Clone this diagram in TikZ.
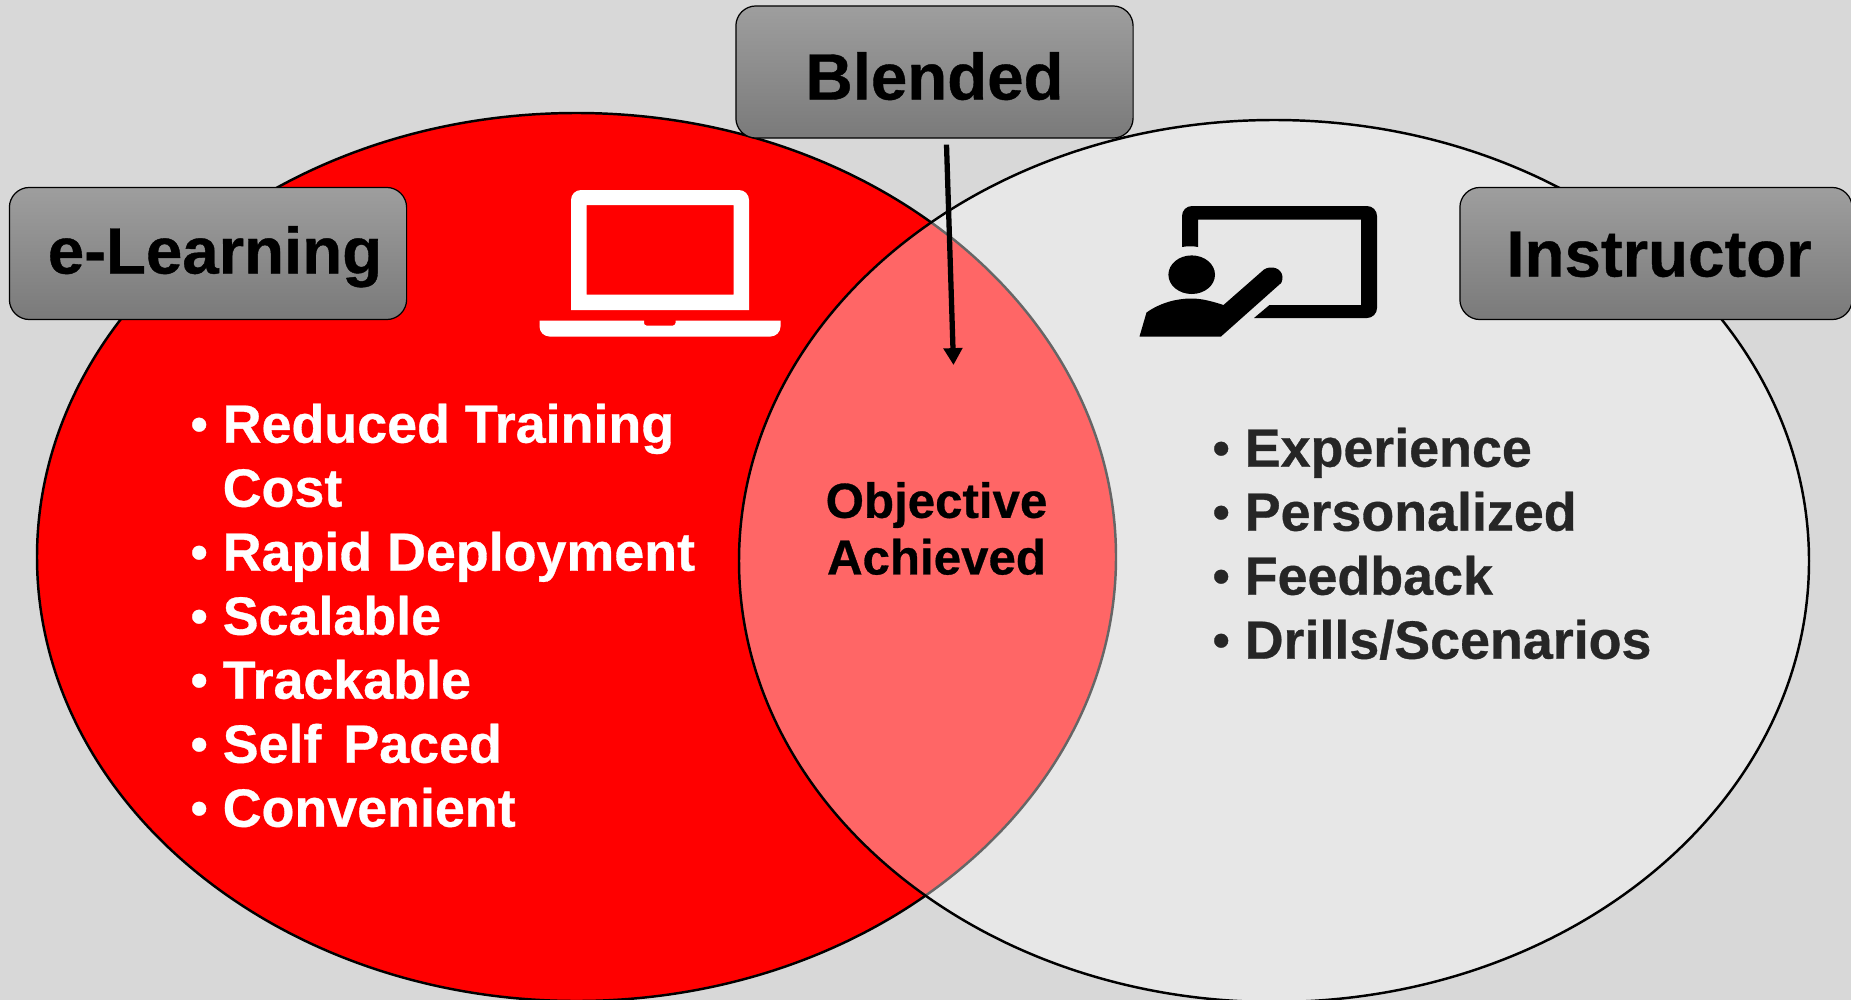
\documentclass[tikz,border=0pt]{standalone}
\usepackage{fontspec}
\setmainfont{Liberation Sans}
\newfontfamily\heavyfont[FakeBold=0.6]{Liberation Sans Bold}
\usetikzlibrary{arrows.meta}
\definecolor{pagegray}{HTML}{D8D8D8}
\definecolor{tagtop}{HTML}{9E9E9E}
\definecolor{tagbot}{HTML}{7A7A7A}
\definecolor{listdark}{HTML}{262626}
\newcommand{\bul}{\makebox[0.32cm][l]{\raisebox{0.02cm}{\scalebox{0.9}{•}}}}
\newcommand{\nobul}{\hspace*{0.32cm}}
\begin{document}
\begin{tikzpicture}[x=0.01cm,y=0.01cm]
                \tikzstyle{every node}+=[inner sep=0pt]
                \tikzstyle{venn}=[black,line width=0.7pt]
                \tikzstyle{tagbox}=[draw=black,line width=0.35pt,rounded corners=0.2cm,top color=tagtop,bottom color=tagbot,
                  minimum width=3.97cm,minimum height=1.32cm,font=\heavyfont\fontsize{18.6}{22}\selectfont,text=black,text depth=0cm]
                \tikzstyle{listtext}=[anchor=north west,align=left,font=\heavyfont\fontsize{15.3}{18.2}\selectfont]
                \useasboundingbox (0,0) rectangle (1851,-1000);
                \fill [pagegray] (0,0) rectangle (1851,-1000);
                % the two sets, the right one lets the left one show through
                \draw [venn,fill=red] (576.5,-557) ellipse (539.5 and 444);
                \draw [venn,fill=white,fill opacity=0.4] (1274,-561) ellipse (535 and 441);
                % tags
                \node (elearn) [tagbox,text height=0.4cm] at (208,-253.5) {\hspace*{0.14cm}e-Learning};
                \node (blended) [tagbox,text height=0.55cm] at (934.5,-72) {Blended};
                \node (instr) [tagbox,text height=0.46cm,minimum width=3.92cm] at (1656,-253.5) {\hspace*{0.06cm}Instructor};
                \coordinate (overlap) at (953.5,-365);
                \draw [line width=1.5pt,-{Triangle[width=5.2pt,length=4.8pt]}] ([xshift=0.12cm,yshift=-0.06cm]blended.south) -- (overlap);
                % laptop
                \fill [white,even odd rule] (571,-310) -- (571,-200) arc (180:90:10) -- (739,-190) arc (90:0:10) -- (749,-310) -- cycle
                  (586.5,-205) rectangle (733.5,-294.5);
                \fill [white] (539.5,-320.5) -- (644,-320.5) -- (644,-323) arc (180:270:2.5) -- (673,-325.5) arc (270:360:2.5) -- (675.5,-320.5)
                  -- (780.5,-320.5) -- (780.5,-326.5) arc (0:-90:10) -- (549.5,-336.5) arc (270:180:10) -- cycle;
                % board and teacher
                \fill [black] (1182,-247) -- (1182,-216) arc (180:90:10) -- (1367,-206) arc (90:0:10) -- (1377,-308) arc (0:-90:10)
                  -- (1254,-318) -- (1269.5,-305) -- (1361,-305) -- (1361,-219.5) -- (1198,-219.5) -- (1198,-247) .. controls (1193,-246) and (1187,-246) .. (1182,-247) -- cycle;
                \fill [black] (1191.7,-274.7) ellipse (23.3 and 19.3);
                \fill [black] (1139.5,-336.5) -- (1146.5,-312.5) .. controls (1160,-303) and (1176,-298.5) .. (1191.5,-298.5)
                  .. controls (1203,-298.5) and (1214,-302) .. (1223.5,-305) -- (1264,-269.5) .. controls (1271,-265) and (1282,-268) .. (1282.5,-277)
                  .. controls (1282.5,-281) and (1281,-284) .. (1280,-284) -- (1221,-336.5) -- cycle;
                % lists
                \node (objective) [align=center,font=\heavyfont\fontsize{14}{16.1}\selectfont] at (936.5,-528.5) {Objective\\Achieved};
                \node (elist) [listtext,text=white] at (190,-403) {\bul Reduced Training\\\nobul Cost\\\bul Rapid Deployment\\\bul Scalable\\\bul Trackable\\\bul Self\hspace{0.07cm} Paced\\\bul Convenient};
                \node (ilist) [listtext,text=listdark] at (1212,-427) {\bul Experience\\\bul Personalized\\\bul Feedback\\\bul Drills/Scenarios};
              \end{tikzpicture}
\end{document}
